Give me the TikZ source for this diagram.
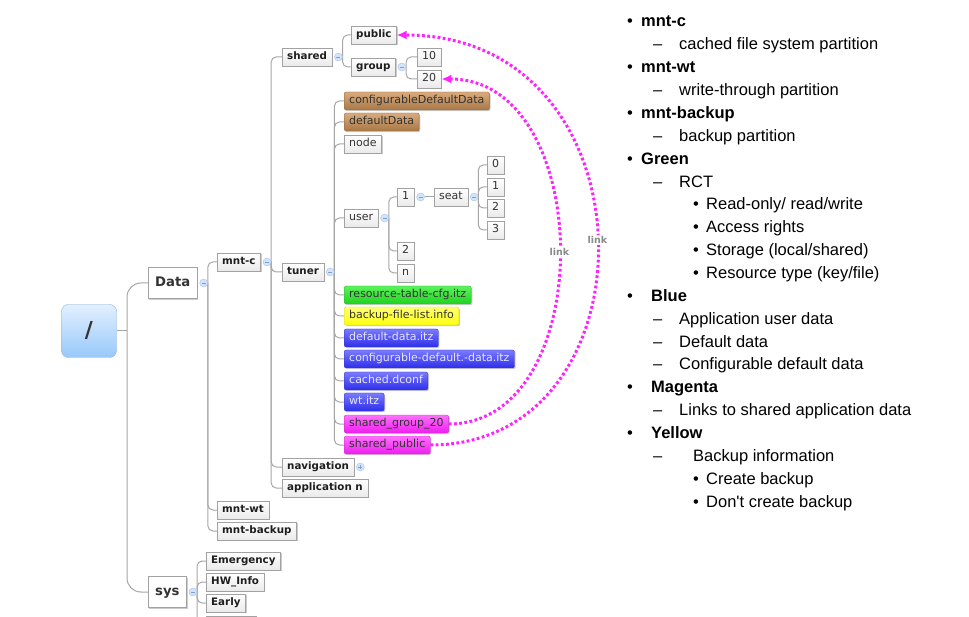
\documentclass[tikz,border=0pt]{standalone}
\usepackage{fontspec}
\setmainfont{DejaVu Sans}
\newfontfamily\slideFamily{Liberation Sans}
\usepackage{tikz}
\usetikzlibrary{positioning, arrows.meta, shadows, backgrounds}
\definecolor{branchGrey}{HTML}{A6A6A6}
\definecolor{boxEdge}{HTML}{A2A2A2}
\definecolor{boxFill}{HTML}{EAEAEA}
\definecolor{inkDark}{HTML}{333333}
\definecolor{inkBlack}{HTML}{1E1E1E}
\definecolor{knobFill}{HTML}{D3E3FA}
\definecolor{knobEdge}{HTML}{A9C3EC}
\definecolor{knobSign}{HTML}{7E9FD6}
\definecolor{rootTop}{HTML}{E2F0FF}
\definecolor{rootBot}{HTML}{98C8FA}
\definecolor{rootEdge}{HTML}{8DB0D6}
\definecolor{tanTop}{HTML}{D9AB7C}
\definecolor{tanBot}{HTML}{A97746}
\definecolor{tanEdge}{HTML}{946437}
\definecolor{limeTop}{HTML}{5CF25C}
\definecolor{limeBot}{HTML}{1ED31E}
\definecolor{limeEdge}{HTML}{3BAF3B}
\definecolor{lemonTop}{HTML}{FFFF70}
\definecolor{lemonBot}{HTML}{FFFF10}
\definecolor{lemonEdge}{HTML}{D6D63A}
\definecolor{indigoTop}{HTML}{7A7AFF}
\definecolor{indigoBot}{HTML}{2E2EEA}
\definecolor{indigoEdge}{HTML}{3A3AC8}
\definecolor{indigoText}{HTML}{E6E6FF}
\definecolor{pinkTop}{HTML}{FF70FF}
\definecolor{pinkBot}{HTML}{EE1EEE}
\definecolor{pinkEdge}{HTML}{C832C8}
\definecolor{linkPink}{HTML}{FF22FF}
\definecolor{linkGrey}{HTML}{8A8A8A}
\newcommand{\leafFont}{\fontsize{11}{13}\selectfont}
\newcommand{\stemFont}{\fontsize{10.3}{12}\selectfont\bfseries}
\newcommand{\bigFont}{\fontsize{13.2}{15}\selectfont\bfseries}
\newcommand{\rootFont}{\fontsize{22}{24}\selectfont\bfseries}
\newcommand{\linkFont}{\fontsize{9.5}{10}\selectfont\bfseries}
\newcommand{\noteFont}{\slideFamily\fontsize{16.5}{19}\selectfont}
\tikzset{
  topic/.style    = {draw=boxEdge, top color=white, bottom color=boxFill, text=inkDark,
                     font=\leafFont, anchor=west, inner xsep=5pt, inner ysep=2pt,
                     minimum height=18pt, text height=8pt, text depth=2.5pt,
                     drop shadow={shadow xshift=1.2pt, shadow yshift=-1.2pt, fill=black, opacity=.2}},
  stem/.style     = {topic, font=\stemFont, text=inkBlack},
  big/.style      = {topic, top color=white, bottom color=white, font=\bigFont, text=inkDark,
                     inner xsep=7pt, minimum height=31pt, text height=10pt, text depth=3pt},
  rootbox/.style  = {draw=rootEdge, rounded corners=7pt, top color=rootTop, bottom color=rootBot,
                     minimum width=55pt, minimum height=53pt, font=\rootFont, text=inkDark},
  tanbox/.style   = {topic, rounded corners=2pt, draw=tanEdge, top color=tanTop, bottom color=tanBot},
  limebox/.style  = {topic, rounded corners=2pt, draw=limeEdge, top color=limeTop, bottom color=limeBot},
  lemonbox/.style = {topic, rounded corners=2pt, draw=lemonEdge, top color=lemonTop, bottom color=lemonBot},
  indigobox/.style= {topic, rounded corners=2pt, draw=indigoEdge, top color=indigoTop, bottom color=indigoBot, text=indigoText},
  pinkbox/.style  = {topic, rounded corners=2pt, draw=pinkEdge, top color=pinkTop, bottom color=pinkBot},
  knob/.style     = {circle, draw=knobEdge, fill=knobFill, minimum size=8pt, inner sep=0pt,
                     path picture={\draw[knobSign, line width=.7pt]
                       ([xshift=2pt]path picture bounding box.west) -- ([xshift=-2pt]path picture bounding box.east);}},
  knobshut/.style = {knob, path picture={\draw[knobSign, line width=.7pt]
                       ([xshift=2pt]path picture bounding box.west) -- ([xshift=-2pt]path picture bounding box.east)
                       ([yshift=-2pt]path picture bounding box.north) -- ([yshift=2pt]path picture bounding box.south);}},
  trunk/.style    = {draw=branchGrey, line width=1pt, rounded corners=14pt},
  branch/.style   = {draw=branchGrey, line width=1pt, rounded corners=5pt},
  link/.style     = {draw=linkPink, line width=3pt, dash pattern=on 2.8pt off 2.4pt,
                     -{Latex[length=10pt, width=9pt]}},
  linklabel/.style= {font=\linkFont, text=linkGrey, fill=white, inner sep=1pt},
  note/.style     = {anchor=base west, inner sep=0pt, font=\noteFont, text=black},
  notehead/.style = {note, font=\noteFont\bfseries},
  notebody/.style = {note},
  notemark/.style = {note}
}

\begin{document}
\begin{tikzpicture}[x=1pt, y=-1pt]
  \useasboundingbox (0,0) rectangle (969,617);
  % root and first level
  \node[rootbox] (root) at (89,331) {/};
  \coordinate (rootJ) at (127,331);
  \node[big] (data) at (148,283) {Data};
  \node[big] (sys) at (148,592) {sys};
  \node[knob, right=2pt of data] (dataK) {};
  \node[knob, right=2pt of sys] (sysK) {};
  % partitions
  \node[stem] (mntc) at (217,262) {mnt-c};
  \node[stem] (mntwt) at (217,510) {mnt-wt};
  \node[stem] (mntbackup) at (217,531) {mnt-backup};
  \node[knob, right=2pt of mntc] (mntcK) {};
  \node[stem] (shared) at (282,57) {shared};
  \node[stem] (tuner) at (282,272) {tuner};
  \node[stem] (navigation) at (282,467) {navigation};
  \node[stem] (appn) at (282,488) {application n};
  \node[knob, right=2pt of shared] (sharedK) {};
  \node[knob, right=2pt of tuner] (tunerK) {};
  \node[knobshut, right=2pt of navigation] (navK) {};
  % shared data
  \node[stem] (public) at (351,35) {public};
  \node[stem] (group) at (351,67) {group};
  \node[knob, right=2pt of group] (groupK) {};
  \node[topic] (gten) at (417,57) {10};
  \node[topic] (gtwenty) at (417,79) {20};
  % tuner
  \node[tanbox] (cdd) at (344,101) {configurableDefaultData};
  \node[tanbox] (dd) at (344,122) {defaultData};
  \node[topic] (nodeN) at (344,144) {node};
  \node[topic] (user) at (344,218) {user};
  \node[limebox] (rtc) at (344,295) {resource-table-cfg.itz};
  \node[lemonbox] (bfl) at (344,316) {backup-file-list.info};
  \node[indigobox] (ddi) at (344,338) {default-data.itz};
  \node[indigobox] (cddi) at (344,359) {configurable-default.-data.itz};
  \node[indigobox] (cached) at (344,381) {cached.dconf};
  \node[indigobox] (wt) at (344,402) {wt.itz};
  \node[pinkbox] (sgtwenty) at (344,424) {shared\_group\_20};
  \node[pinkbox] (spublic) at (344,445) {shared\_public};
  % users and seats
  \node[knob, right=2pt of user] (userK) {};
  \node[topic] (uone) at (397,197) {1};
  \node[topic] (utwo) at (397,251) {2};
  \node[topic] (un) at (397,273) {n};
  \node[knob, right=2pt of uone] (uoneK) {};
  \node[topic] (seat) at (434,197) {seat};
  \node[knob, right=2pt of seat] (seatK) {};
  \foreach \i/\n in {0/165, 1/187, 2/208, 3/230}
    \node[topic] (seat\i) at (487,\n) {\i};
  % sys
  \node[stem] (emergency) at (206,561) {Emergency};
  \node[stem] (hwinfo) at (206,582) {HW\_Info};
  \node[stem] (early) at (206,603) {Early};
  \node[stem, anchor=north west, minimum width=50pt] (sysmore) at (206,616) {};

  % tree lines
  \begin{scope}[on background layer]
    \draw[trunk] (root.east) -- (rootJ);
    \foreach \c in {data, sys} \draw[trunk] (rootJ) |- (\c.west);
    \foreach \p/\c in {dataK/mntc, dataK/mntwt, dataK/mntbackup,
                       mntcK/shared, mntcK/tuner, mntcK/navigation, mntcK/appn,
                       sharedK/public, sharedK/group, groupK/gten, groupK/gtwenty,
                       tunerK/cdd, tunerK/dd, tunerK/nodeN, tunerK/user, tunerK/rtc, tunerK/bfl,
                       tunerK/ddi, tunerK/cddi, tunerK/cached, tunerK/wt, tunerK/sgtwenty, tunerK/spublic,
                       userK/uone, userK/utwo, userK/un,
                       seatK/seat0, seatK/seat1, seatK/seat2, seatK/seat3,
                       sysK/emergency, sysK/hwinfo, sysK/early, sysK/sysmore}
      \draw[branch] (\p.east) |- (\c.west);
    \draw[branch] (uoneK) -- (seat);
  \end{scope}

  % links to shared data
  \draw[link] (sgtwenty.east) .. controls +(150,0) and +(155,0) .. (gtwenty.east)
    node[linklabel, pos=.5] (linkInner) {link};
  \draw[link] (spublic.east) .. controls +(229,0) and +(261,0) .. (public.east)
    node[linklabel, pos=.5] (linkOuter) {link};

  % legend
  \foreach \k/\mx/\mk/\tx/\st/\txt in {
      0/627/•/641/notehead/mnt-c,
      1/653/–/679/notebody/cached file system partition,
      2/627/•/641/notehead/mnt-wt,
      3/653/–/679/notebody/write-through partition,
      4/627/•/641/notehead/mnt-backup,
      5/653/–/679/notebody/backup partition,
      6/627/•/641/notehead/Green,
      7/653/–/679/notebody/RCT,
      8/693/•/706/notebody/{Read-only/ read/write},
      9/693/•/706/notebody/Access rights,
      10/693/•/706/notebody/{Storage (local/shared)},
      11/693/•/706/notebody/{Resource type (key/file)},
      12/627/•/651/notehead/Blue,
      13/653/–/679/notebody/Application user data,
      14/653/–/679/notebody/Default data,
      15/653/–/679/notebody/Configurable default data,
      16/627/•/651/notehead/Magenta,
      17/653/–/679/notebody/Links to shared application data,
      18/627/•/651/notehead/Yellow,
      19/653/–/693/notebody/Backup information,
      20/693/•/706/notebody/Create backup,
      21/693/•/706/notebody/Don't create backup} {
    \node[notemark] (mark\k) at (\mx, 27+22.86*\k) {\mk};
    \node[\st] (note\k) at (\tx, 27+22.86*\k) {\txt};
  }
\end{tikzpicture}
\end{document}
